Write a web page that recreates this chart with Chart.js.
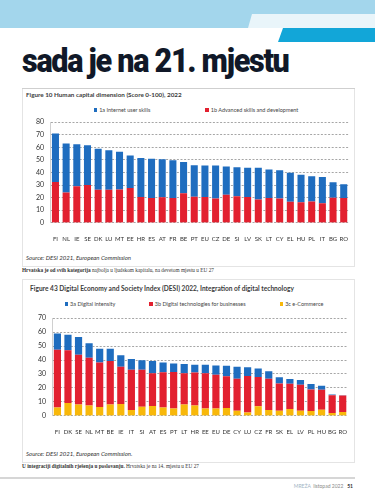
<!DOCTYPE html>
<html lang="hr">
<head>
<meta charset="UTF-8">
<title>sada je na 21. mjestu</title>
<script src="https://cdn.jsdelivr.net/npm/chart.js@4.4.0/dist/chart.umd.min.js"></script>
<style>
  html, body { margin: 0; padding: 0; background: #fff; }
  #page { position: relative; width: 375px; height: 499px; overflow: hidden; font-family: Lato, "Open Sans", sans-serif; }
  .abs { position: absolute; }
  .band { left: 0; top: 0; width: 375px; height: 28px; background: #a3d6ec; }
  .band2 { left: 248px; top: 14px; width: 127px; height: 14px; background: #e9f5fa; clip-path: polygon(4px 0, 100% 0, 100% 100%, 0 100%); }
  .band3 { left: 278px; top: 28px; width: 97px; height: 14px; background: #12a6d8; clip-path: polygon(5px 0, 100% 0, 100% 100%, 0 100%); }
  #headline { left: 22px; top: 41px; font-family: Roboto, sans-serif; font-weight: 900; font-size: 33px; color: #101828; white-space: nowrap; letter-spacing: -1.4px; transform-origin: 0 0; }
  .box { border: 1px solid #e4e4e4; background: #fff; }
  .rule { height: 1px; background: #cfcfcf; }
  .ftitle { font-weight: 700; color: #3c3c3c; white-space: nowrap; }
  .legend { display: flex; justify-content: center; align-items: center; font-size: 5.5px; color: #444; white-space: nowrap; }
  .legend span.sw { display: inline-block; width: 3.5px; height: 3.5px; margin-right: 2px; vertical-align: middle; }
  .source { font-style: italic; font-size: 6px; color: #333; white-space: nowrap; }
  .caption { font-family: "Liberation Serif", serif; font-size: 5.3px; color: #333; white-space: nowrap; }
  .footer { font-size: 5px; white-space: nowrap; }
</style>
</head>
<body>
<div id="page">
  <div class="abs band"></div>
  <div class="abs band2"></div>
  <div class="abs band3"></div>
  <div class="abs" id="headline">sada je na 21. mjestu</div>

  <div class="abs box" style="left:22px;top:88px;width:331px;height:177px;"></div>
  <div class="abs rule" style="left:22px;top:88px;width:333px;"></div>
  <div class="abs ftitle" style="left:26px;top:91px;font-size:6.3px;">Figure 10 Human capital dimension (Score 0-100), 2022</div>
  <div class="abs legend" id="leg1" style="left:23px;top:106px;width:330px;height:7px;padding-left:16px;box-sizing:border-box;gap:55px;"></div>
  <div class="abs" style="left:23px;top:112px;width:330px;height:136px;"><canvas id="c1"></canvas></div>
  <div class="abs source" style="left:26px;top:254px;">Source: DESI 2021, European Commission</div>
  <div class="abs caption" style="left:22px;top:267px;"><b>Hrvatska je od svih kategorija</b> najbolja u ljudskom kapitalu, na devetom mjestu u EU 27</div>

  <div class="abs box" style="left:22px;top:279px;width:331px;height:182px;"></div>
  <div class="abs ftitle" style="left:30px;top:284px;font-size:6.6px;">Figure 43 Digital Economy and Society Index (DESI) 2022, Integration of digital technology</div>
  <div class="abs legend" id="leg2" style="left:23px;top:300px;width:330px;height:7px;padding-left:12px;box-sizing:border-box;gap:34px;"></div>
  <div class="abs" style="left:23px;top:308px;width:330px;height:133px;"><canvas id="c2"></canvas></div>
  <div class="abs source" style="left:26px;top:450px;">Source: DESI 2021, European Commission.</div>
  <div class="abs caption" style="left:22px;top:463px;"><b>U integraciji digitalnih rješenja u poslovanju.</b> Hrvatska je na 14. mjestu u EU 27</div>

  <div class="abs rule" style="left:0;top:477px;width:355px;height:1.5px;background:#d6d6d6;"></div>
  <div class="abs footer" style="right:22px;top:483px;"><span style="color:#9fb4c4;">MREŽA</span>&nbsp;&nbsp;<span style="color:#8a8a8a;">listopad 2022</span>&nbsp;&nbsp;&nbsp;<b style="color:#333;">51</b></div>
</div>

<script>
// Figure 10 - Human capital
const countries1 = ['FI','NL','IE','SE','DK','LU','MT','EE','HR','ES','AT','FR','BE','PT','EU','CZ','DE','SI','LV','SK','LT','CY','EL','HU','PL','IT','BG','RO'];
const internetSkills = [38.5,39.0,33.5,31.6,32.7,31.4,30.1,26.0,30.9,31.2,30.2,30.0,24.9,24.9,24.9,26.2,22.4,23.0,23.1,25.1,22.7,22.4,23.1,21.9,20.0,21.0,12.4,11.0];
const advancedSkills = [32.5,24.0,29.0,30.0,26.2,26.2,26.4,27.6,20.6,19.7,20.4,19.7,23.5,20.8,20.6,19.3,22.4,21.1,20.6,18.6,19.7,19.3,16.8,16.4,17.0,15.5,19.9,19.7];
const yTicks1 = [0,10,20,30,40,50,60,70,80];

// Figure 43 - Integration of digital technology
const countries2 = ['FI','DK','SE','NL','MT','BE','IE','IT','SI','AT','ES','PT','LT','HR','EE','EU','DE','CY','LU','CZ','FR','SK','EL','LV','PL','HU','BG','RO'];
const digitalIntensity = [11.7,11.1,12.7,10.4,9.7,8.7,8.3,7.7,6.8,8.8,7.0,6.0,6.6,5.6,6.2,6.6,7.5,8.5,6.3,6.1,5.3,4.4,3.4,3.4,4.0,3.0,0.6,0.2];
const digitalTech = [41.5,37.9,35.7,34.3,32.0,31.2,26.6,28.9,26.6,23.4,25.4,26.3,22.4,23.8,25.3,24.3,22.8,23.0,26.2,20.9,22.4,19.6,18.2,18.6,15.4,14.2,12.7,11.7];
const eCommerce = [5.9,9.1,8.1,7.3,6.3,8.1,8.5,4.2,6.5,7.1,5.9,5.2,8.1,7.3,5.2,5.2,5.6,3.6,2.4,6.9,4.2,3.6,4.8,3.6,3.4,4.4,2.0,2.8];
const yTicks2 = [0,10,20,30,40,50,60,70];

const BLUE = '#1f6dbf', RED = '#e2202f', YELLOW = '#f8b80a';

// squeeze the headline to the width it has in print
function fitHeadline() {
  const hl = document.getElementById('headline');
  hl.style.transform = 'none';
  const w = hl.scrollWidth;
  if (w > 0) hl.style.transform = 'scaleX(' + Math.min(1, 267 / w) + ')';
}
fitHeadline();
if (document.fonts) document.fonts.ready.then(fitHeadline);

function makeLegend(id, items) {
  const el = document.getElementById(id);
  items.forEach(([label, color]) => {
    const d = document.createElement('div');
    d.innerHTML = '<span class="sw" style="background:' + color + '"></span>' + label;
    el.appendChild(d);
  });
}
makeLegend('leg1', [['1a Internet user skills', BLUE], ['1b Advanced skills and development', RED]]);
makeLegend('leg2', [['3a Digital intensity', BLUE], ['3b Digital technologies for businesses', RED], ['3c e-Commerce', YELLOW]]);

function options(ticks, padLeft, padRight, barPct) {
  return {
    responsive: true,
    maintainAspectRatio: false,
    animation: false,
    layout: { padding: { left: padLeft, right: padRight, top: 0, bottom: 0 } },
    plugins: { legend: { display: false }, tooltip: { enabled: false } },
    datasets: { bar: { barPercentage: barPct, categoryPercentage: 1 } },
    scales: {
      x: {
        stacked: true,
        grid: { display: false },
        border: { display: false },
        ticks: { color: '#333', font: { family: 'Lato', size: 6 }, maxRotation: 0, autoSkip: false, padding: 5 }
      },
      y: {
        stacked: true,
        min: ticks[0],
        max: ticks[ticks.length - 1],
        afterBuildTicks: (axis) => { axis.ticks = ticks.map(v => ({ value: v })); },
        grid: { color: '#8f8f8f', lineWidth: 0.8, drawTicks: false },
        border: { display: true, color: '#c4c4c4', width: 0.8, dash: [2, 1.6] },
        ticks: { color: '#333', font: { family: 'Lato', size: 7 }, padding: 6 }
      }
    }
  };
}

new Chart(document.getElementById('c1'), {
  type: 'bar',
  data: {
    labels: countries1,
    datasets: [
      { label: '1b Advanced skills and development', data: advancedSkills, backgroundColor: RED },
      { label: '1a Internet user skills', data: internetSkills, backgroundColor: BLUE }
    ]
  },
  options: options(yTicks1, 7, 1, 0.66)
});

new Chart(document.getElementById('c2'), {
  type: 'bar',
  data: {
    labels: countries2,
    datasets: [
      { label: '3c e-Commerce', data: eCommerce, backgroundColor: YELLOW },
      { label: '3b Digital technologies for businesses', data: digitalTech, backgroundColor: RED },
      { label: '3a Digital intensity', data: digitalIntensity, backgroundColor: BLUE }
    ]
  },
  options: options(yTicks2, 9, 5, 0.68)
});
</script>
</body>
</html>
